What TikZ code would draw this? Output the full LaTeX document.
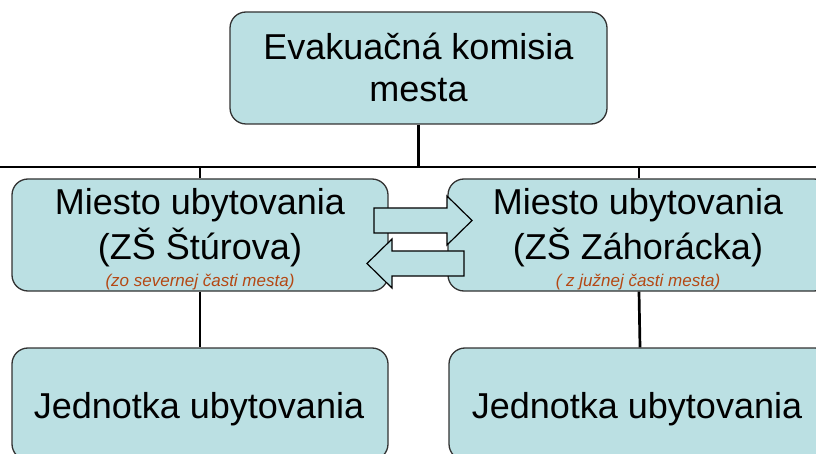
\documentclass[tikz,border=0pt]{standalone}
\usepackage{fontspec}
\setmainfont{Liberation Sans}
\definecolor{boxfill}{RGB}{187,224,227}
\definecolor{boxline}{RGB}{50,50,50}
\definecolor{notecol}{RGB}{180,72,20}
\tikzset{
  orgbox/.style={draw=boxline, line width=1.3pt, fill=boxfill, rounded corners=16pt, inner sep=0pt, minimum height=112pt},
  bigtxt/.style={anchor=base, inner sep=0pt, font=\fontsize{36}{42}\selectfont},
  notetxt/.style={anchor=base, inner sep=0pt, text=notecol, font=\fontsize{17}{20}\selectfont\itshape},
  conn/.style={line width=2.7pt, black},
  blockarrow/.style={draw=black, line width=1.2pt, fill=boxfill, line join=miter}
}
\begin{document}
\begin{tikzpicture}[x=1pt,y=-1pt]
\useasboundingbox (0,0) rectangle (816,454);
\clip (0,0) rectangle (816,454);
% boxes
\node[orgbox, minimum width=377pt] (top) at (418.5,68) {};
\node[orgbox, minimum width=376pt] (ml) at (200,235) {};
\node[orgbox, minimum width=382pt] (mr) at (639,235) {};
\node[orgbox, minimum width=376pt] (bll) at (200,404) {};
\node[orgbox, minimum width=382pt] (brr) at (640,404) {};
% connectors
\coordinate (bl) at (0,167);
\coordinate (br) at (816,167);
\draw[conn] (bl) -- (br);
\draw[conn] (top.south) -- (top.south |- bl);
\draw[conn] (ml.north) -- (ml.north |- bl);
\draw[conn] (mr.north) -- (mr.north |- bl);
\draw[conn] (ml.south) -- (bll.north);
\draw[conn] (mr.south) -- (brr.north);
% texts
\node[bigtxt] (t1) at (418.5,60) {Evakuačná komisia};
\node[bigtxt] (t2) at (418.5,102) {mesta};
\node[bigtxt] (ml1) at (200,215) {Miesto ubytovania};
\node[bigtxt] (ml2) at (200,260) {(ZŠ Štúrova)};
\node[notetxt] (ml3) at (200,287) {(zo severnej časti mesta)};
\node[bigtxt] (mr1) at (638,215) {Miesto ubytovania};
\node[bigtxt] (mr2) at (638,260) {(ZŠ Záhorácka)};
\node[notetxt] (mr3) at (638,287) {( z južnej časti mesta)};
\node[bigtxt] (b1) at (199,418) {Jednotka ubytovania};
\node[bigtxt] (b2) at (637,418) {Jednotka ubytovania};
% block arrows
\draw[blockarrow] (374,208) -- (447,208) -- (447,196) -- (472,220.5) -- (447,245) -- (447,233) -- (374,233) -- cycle;
\draw[blockarrow] (464,251) -- (392,251) -- (392,239) -- (367,263.5) -- (392,288) -- (392,276) -- (464,276) -- cycle;
\end{tikzpicture}
\end{document}
